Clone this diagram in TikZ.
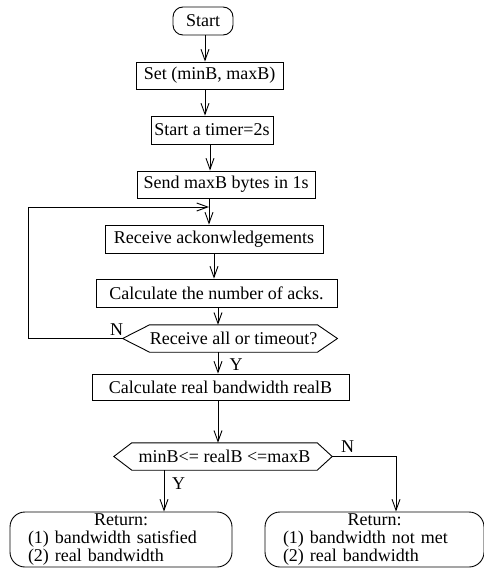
\documentclass[tikz,border=0pt]{standalone}
\usepackage{fontspec}
\setmainfont{Liberation Serif}
\usetikzlibrary{arrows.meta}
\begin{document}
\begin{tikzpicture}[x=1pt,y=-1pt,
  every node/.style={font=\fontsize{18}{18}\selectfont, inner sep=0pt},
  wire/.style={line width=0.9pt},
  proc/.style={draw, line width=0.9pt, rectangle, minimum height=27pt},
  term/.style={draw, line width=0.9pt, rectangle, rounded corners=10pt},
  retbox/.style={draw, line width=0.9pt, rectangle, rounded corners=15pt,
    minimum height=55pt, align=left},
  cond/.style={rectangle, minimum height=27pt},
  arr/.style={line width=0.9pt, -{Straight Barb[length=11pt,width=8pt]}}]
\useasboundingbox (0,0) rectangle (483,569);

% main sequence
\node[term, minimum width=60pt, minimum height=28pt] (start) at (203,21) {Start};
\node[proc, minimum width=147pt] (set) at (209.5,75.5) {Set (minB, maxB)};
\node[proc, minimum width=122pt, minimum height=28pt] (timer) at (212,130) {Start a timer=2s};
\node[proc, minimum width=178pt] (send) at (226,184.5) {Send maxB bytes in 1s};
\node[proc, minimum width=218pt, minimum height=28pt] (recv) at (214,239) {Receive ackonwledgements};
\node[proc, minimum width=241pt, minimum height=28pt] (count) at (216.5,293) {Calculate the number of acks.};

% decision: all received / timeout
\node[cond, minimum width=167pt] (done) at (233.5,338.5) {Receive all or timeout?};
\draw[wire] (done.north west) -- (done.north east)
  -- ([xshift=20pt]done.east) coordinate (done-r)
  -- (done.south east) -- (done.south west)
  -- ([xshift=-27pt]done.west) coordinate (done-l) -- cycle;

\node[proc, minimum width=257pt, minimum height=26pt] (real) at (220.5,387) {Calculate real bandwidth realB};

% decision: bandwidth range
\node[cond, minimum width=185pt] (range) at (224.5,456.5) {minB<= realB <=maxB};
\draw[wire] (range.north west) -- (range.north east)
  -- ([xshift=15pt]range.east) coordinate (range-r)
  -- (range.south east) -- (range.south west)
  -- ([xshift=-18pt]range.west) coordinate (range-l) -- cycle;

% results
\node[retbox, text width=222pt] (ok) at (121,539.5)
  {\makebox[\linewidth][c]{Return:}\\\hspace*{18pt}(1) bandwidth satisfied\\\hspace*{18pt}(2) real bandwidth};
\node[retbox, text width=219pt] (fail) at (374.5,539.5)
  {\makebox[\linewidth][c]{Return:}\\\hspace*{18pt}(1) bandwidth not met\\\hspace*{18pt}(2) real bandwidth};

% connectors
\draw[arr] ([xshift=2pt]start.south) -- ([xshift=-4.5pt]set.north);
\draw[arr] ([xshift=-4.5pt]set.south) -- ([xshift=-7pt]timer.north);
\draw[arr] ([xshift=-2pt]timer.south) -- ([xshift=-16pt]send.north);
\draw[arr] ([xshift=-17pt]send.south) -- ([xshift=-5pt]recv.north);
\draw[arr] (recv.south) -- ([xshift=-2.5pt]count.north);
\draw[arr] ([xshift=1.5pt]count.south) -- ([xshift=-15.5pt]done.north);
\draw[arr] ([xshift=-15.5pt]done.south) -- ([xshift=-2.5pt]real.north);
\draw[arr] ([xshift=-2.5pt]real.south) -- ([xshift=-6.5pt]range.north);
\draw[arr] ([xshift=-60.5pt]range.south) -- ([xshift=43pt]ok.north);
\draw[arr] (range-r) -| ([xshift=21.5pt]fail.north);

% retry loop
\coordinate (loop) at (28,207);
\coordinate (join) at (209,207);
\draw[arr] (done-l) -| (loop) -- (join);

% branch labels
\node (n1) at (116.5,329.5) {N};
\node (y1) at (236,365) {Y};
\node (n2) at (347.5,446.5) {N};
\node (y2) at (178.5,483.5) {Y};
\end{tikzpicture}
\end{document}
